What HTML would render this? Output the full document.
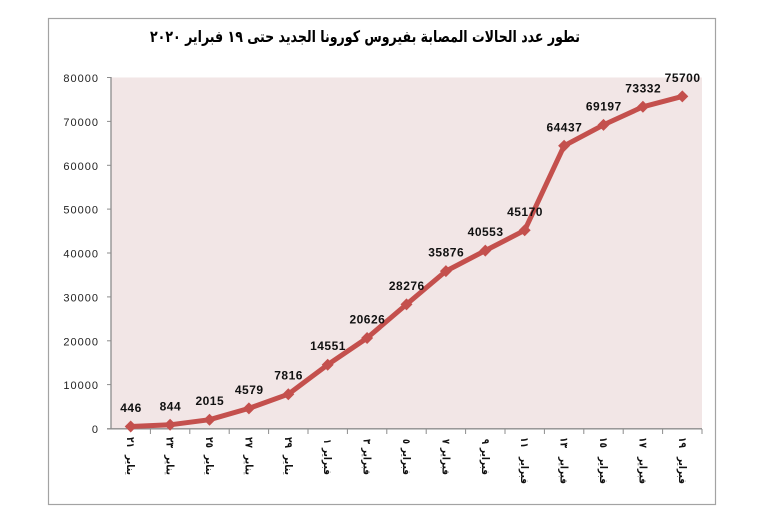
<!DOCTYPE html>
<html>
<head>
<meta charset="utf-8">
<style>
  html,body{margin:0;padding:0;background:#fff;}
  svg{display:block;}
</style>
</head>
<body>
<svg width="760" height="532" viewBox="0 0 760 532" xmlns="http://www.w3.org/2000/svg">
  <rect x="0" y="0" width="760" height="532" fill="#ffffff"/>
  <!-- chart border -->
  <rect x="48.5" y="18.5" width="667" height="486" fill="#ffffff" stroke="#a3a3a3" stroke-width="1.2"/>
  <!-- title -->
  <text x="365" y="42" font-family="'DejaVu Sans', sans-serif" font-weight="bold" font-size="16" text-anchor="middle" direction="rtl" textLength="430" lengthAdjust="spacingAndGlyphs" fill="#000">تطور عدد الحالات المصابة بفيروس كورونا الجديد حتى ١٩ فبراير ٢٠٢٠</text>
  <!-- plot area -->
  <rect x="111" y="77.5" width="591" height="351" fill="#f2e6e6"/>
  <!-- axes -->
  <line x1="111" y1="77" x2="111" y2="429" stroke="#8c8c8c" stroke-width="1.3"/>
  <line x1="107" y1="428.8" x2="702" y2="428.8" stroke="#8c8c8c" stroke-width="1.3"/>
  <!-- y ticks -->
  <g stroke="#8c8c8c" stroke-width="1">
    <line x1="107" y1="77.5" x2="111" y2="77.5"/>
    <line x1="107" y1="121.4" x2="111" y2="121.4"/>
    <line x1="107" y1="165.3" x2="111" y2="165.3"/>
    <line x1="107" y1="209.1" x2="111" y2="209.1"/>
    <line x1="107" y1="253" x2="111" y2="253"/>
    <line x1="107" y1="296.9" x2="111" y2="296.9"/>
    <line x1="107" y1="340.8" x2="111" y2="340.8"/>
    <line x1="107" y1="384.6" x2="111" y2="384.6"/>
  </g>
  <!-- y labels -->
  <g font-family="'Liberation Sans', sans-serif" font-size="11" letter-spacing="1" text-anchor="end" fill="#222">
    <text x="99" y="82">80000</text>
    <text x="99" y="125.9">70000</text>
    <text x="99" y="169.8">60000</text>
    <text x="99" y="213.6">50000</text>
    <text x="99" y="257.5">40000</text>
    <text x="99" y="301.4">30000</text>
    <text x="99" y="345.3">20000</text>
    <text x="99" y="389.1">10000</text>
    <text x="99" y="433">0</text>
  </g>
  <!-- x ticks -->
  <g stroke="#8c8c8c" stroke-width="1">
    <line x1="150.4" y1="429" x2="150.4" y2="434"/>
    <line x1="189.8" y1="429" x2="189.8" y2="434"/>
    <line x1="229.2" y1="429" x2="229.2" y2="434"/>
    <line x1="268.6" y1="429" x2="268.6" y2="434"/>
    <line x1="308" y1="429" x2="308" y2="434"/>
    <line x1="347.4" y1="429" x2="347.4" y2="434"/>
    <line x1="386.8" y1="429" x2="386.8" y2="434"/>
    <line x1="426.2" y1="429" x2="426.2" y2="434"/>
    <line x1="465.6" y1="429" x2="465.6" y2="434"/>
    <line x1="505" y1="429" x2="505" y2="434"/>
    <line x1="544.4" y1="429" x2="544.4" y2="434"/>
    <line x1="583.8" y1="429" x2="583.8" y2="434"/>
    <line x1="623.2" y1="429" x2="623.2" y2="434"/>
    <line x1="662.6" y1="429" x2="662.6" y2="434"/>
    <line x1="702" y1="429" x2="702" y2="434"/>
  </g>
  <!-- x labels (rotated) -->
  <g font-family="'DejaVu Sans', sans-serif" font-weight="bold" font-size="10.5" fill="#111">
    <text transform="translate(131.2,437) rotate(90)" x="0" y="4" textLength="11" lengthAdjust="spacingAndGlyphs">٢١</text>
    <text transform="translate(131.2,455) rotate(90)" x="0" y="4" textLength="20" lengthAdjust="spacingAndGlyphs">يناير</text>
    <text transform="translate(170.6,437) rotate(90)" x="0" y="4" textLength="11" lengthAdjust="spacingAndGlyphs">٢٣</text>
    <text transform="translate(170.6,455) rotate(90)" x="0" y="4" textLength="20" lengthAdjust="spacingAndGlyphs">يناير</text>
    <text transform="translate(210,437) rotate(90)" x="0" y="4" textLength="11" lengthAdjust="spacingAndGlyphs">٢٥</text>
    <text transform="translate(210,455) rotate(90)" x="0" y="4" textLength="20" lengthAdjust="spacingAndGlyphs">يناير</text>
    <text transform="translate(249.4,437) rotate(90)" x="0" y="4" textLength="11" lengthAdjust="spacingAndGlyphs">٢٧</text>
    <text transform="translate(249.4,455) rotate(90)" x="0" y="4" textLength="20" lengthAdjust="spacingAndGlyphs">يناير</text>
    <text transform="translate(288.8,437) rotate(90)" x="0" y="4" textLength="11" lengthAdjust="spacingAndGlyphs">٢٩</text>
    <text transform="translate(288.8,455) rotate(90)" x="0" y="4" textLength="20" lengthAdjust="spacingAndGlyphs">يناير</text>

    <text transform="translate(328.2,439) rotate(90)" x="0" y="4" textLength="5" lengthAdjust="spacingAndGlyphs">١</text>
    <text transform="translate(328.2,448) rotate(90)" x="0" y="4" textLength="27" lengthAdjust="spacingAndGlyphs">فبراير</text>
    <text transform="translate(367.6,439) rotate(90)" x="0" y="4" textLength="5" lengthAdjust="spacingAndGlyphs">٣</text>
    <text transform="translate(367.6,448) rotate(90)" x="0" y="4" textLength="27" lengthAdjust="spacingAndGlyphs">فبراير</text>
    <text transform="translate(407,439) rotate(90)" x="0" y="4" textLength="5" lengthAdjust="spacingAndGlyphs">٥</text>
    <text transform="translate(407,448) rotate(90)" x="0" y="4" textLength="27" lengthAdjust="spacingAndGlyphs">فبراير</text>
    <text transform="translate(446.4,439) rotate(90)" x="0" y="4" textLength="5" lengthAdjust="spacingAndGlyphs">٧</text>
    <text transform="translate(446.4,448) rotate(90)" x="0" y="4" textLength="27" lengthAdjust="spacingAndGlyphs">فبراير</text>
    <text transform="translate(485.8,439) rotate(90)" x="0" y="4" textLength="5" lengthAdjust="spacingAndGlyphs">٩</text>
    <text transform="translate(485.8,448) rotate(90)" x="0" y="4" textLength="27" lengthAdjust="spacingAndGlyphs">فبراير</text>

    <text transform="translate(525.2,437) rotate(90)" x="0" y="4" textLength="11" lengthAdjust="spacingAndGlyphs">١١</text>
    <text transform="translate(525.2,457) rotate(90)" x="0" y="4" textLength="27" lengthAdjust="spacingAndGlyphs">فبراير</text>
    <text transform="translate(564.6,437) rotate(90)" x="0" y="4" textLength="11" lengthAdjust="spacingAndGlyphs">١٣</text>
    <text transform="translate(564.6,457) rotate(90)" x="0" y="4" textLength="27" lengthAdjust="spacingAndGlyphs">فبراير</text>
    <text transform="translate(604,437) rotate(90)" x="0" y="4" textLength="11" lengthAdjust="spacingAndGlyphs">١٥</text>
    <text transform="translate(604,457) rotate(90)" x="0" y="4" textLength="27" lengthAdjust="spacingAndGlyphs">فبراير</text>
    <text transform="translate(643.4,437) rotate(90)" x="0" y="4" textLength="11" lengthAdjust="spacingAndGlyphs">١٧</text>
    <text transform="translate(643.4,457) rotate(90)" x="0" y="4" textLength="27" lengthAdjust="spacingAndGlyphs">فبراير</text>
    <text transform="translate(682.8,437) rotate(90)" x="0" y="4" textLength="11" lengthAdjust="spacingAndGlyphs">١٩</text>
    <text transform="translate(682.8,457) rotate(90)" x="0" y="4" textLength="27" lengthAdjust="spacingAndGlyphs">فبراير</text>
  </g>
  <!-- series line -->
  <polyline fill="none" stroke="#c4504d" stroke-width="5" stroke-linejoin="round"
    points="130.7,426.5 170.1,424.8 209.5,419.7 248.9,408.4 288.3,394.2 327.7,364.7 367.1,338.0 406.5,304.4 445.9,271.1 485.3,250.6 524.7,230.3 564.1,145.8 603.5,124.9 642.9,106.8 682.3,96.4"/>
  <!-- markers -->
  <g fill="#c4504d">
    <polygon points="130.7,420.5 136.7,426.5 130.7,432.5 124.7,426.5"/>
    <polygon points="170.1,418.8 176.1,424.8 170.1,430.8 164.1,424.8"/>
    <polygon points="209.5,413.7 215.5,419.7 209.5,425.7 203.5,419.7"/>
    <polygon points="248.9,402.4 254.9,408.4 248.9,414.4 242.9,408.4"/>
    <polygon points="288.3,388.2 294.3,394.2 288.3,400.2 282.3,394.2"/>
    <polygon points="327.7,358.7 333.7,364.7 327.7,370.7 321.7,364.7"/>
    <polygon points="367.1,332.0 373.1,338.0 367.1,344.0 361.1,338.0"/>
    <polygon points="406.5,298.4 412.5,304.4 406.5,310.4 400.5,304.4"/>
    <polygon points="445.9,265.1 451.9,271.1 445.9,277.1 439.9,271.1"/>
    <polygon points="485.3,244.6 491.3,250.6 485.3,256.6 479.3,250.6"/>
    <polygon points="524.7,224.3 530.7,230.3 524.7,236.3 518.7,230.3"/>
    <polygon points="564.1,139.8 570.1,145.8 564.1,151.8 558.1,145.8"/>
    <polygon points="603.5,118.9 609.5,124.9 603.5,130.9 597.5,124.9"/>
    <polygon points="642.9,100.8 648.9,106.8 642.9,112.8 636.9,106.8"/>
    <polygon points="682.3,90.4 688.3,96.4 682.3,102.4 676.3,96.4"/>
  </g>
  <!-- data labels -->
  <g font-family="'Liberation Sans', sans-serif" font-weight="bold" font-size="12" letter-spacing="0.5" text-anchor="middle" fill="#111">
    <text x="131" y="412">446</text>
    <text x="170.4" y="410.3">844</text>
    <text x="209.8" y="405.2">2015</text>
    <text x="249.2" y="393.9">4579</text>
    <text x="288.6" y="379.7">7816</text>
    <text x="328" y="350.2">14551</text>
    <text x="367.4" y="323.5">20626</text>
    <text x="406.8" y="289.9">28276</text>
    <text x="446.2" y="256.6">35876</text>
    <text x="485.6" y="236.1">40553</text>
    <text x="525" y="215.8">45170</text>
    <text x="564.4" y="131.3">64437</text>
    <text x="603.8" y="110.4">69197</text>
    <text x="643.2" y="92.3">73332</text>
    <text x="682.6" y="81.9">75700</text>
  </g>
</svg>
</body>
</html>
